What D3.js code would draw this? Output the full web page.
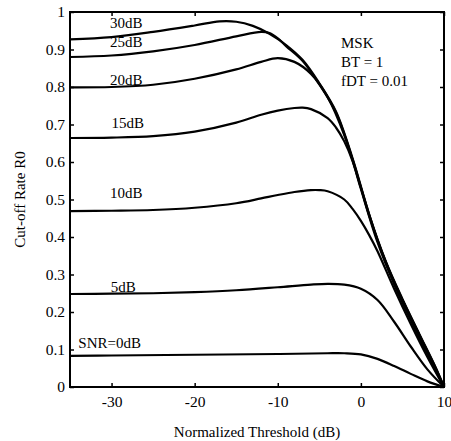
<!DOCTYPE html>
<html><head><meta charset="utf-8">
<script src="https://cdn.jsdelivr.net/npm/d3@7"></script>
<style>body{margin:0;background:#fff}svg{display:block}
.f1{font-family:"Liberation Serif","Times New Roman",serif}</style>
</head><body><svg id="c" width="451" height="441"></svg>
<script>
const xTicks = [-30, -20, -10, 0, 10];
const xTickLabels = ["-30", "-20", "-10", "0", "10"];
const yTicks = [0, 0.1, 0.2, 0.3, 0.4, 0.5, 0.6, 0.7, 0.8, 0.9, 1];
const yTickLabels = ["0", "0.1", "0.2", "0.3", "0.4", "0.5", "0.6", "0.7", "0.8", "0.9", "1"];
const seriesNames = ["30dB", "25dB", "20dB", "15dB", "10dB", "5dB", "SNR=0dB"];
const xs30 = [-35, -30, -25, -20, -17, -15, -13, -11, -9, -7, -5, -3, -1, 1, 3, 5, 7, 9, 10];
const snr30 = [0.927, 0.933, 0.947, 0.964, 0.975, 0.974, 0.963, 0.942, 0.912, 0.872, 0.81, 0.735, 0.61, 0.46, 0.335, 0.235, 0.143, 0.052, 0];
const xs25 = [-35, -30, -25, -20, -15, -12, -11, -10, -9, -7, -5, -3, -1, 1, 3, 5, 7, 9, 10];
const snr25 = [0.88, 0.884, 0.895, 0.912, 0.935, 0.947, 0.944, 0.93, 0.909, 0.869, 0.807, 0.732, 0.607, 0.457, 0.332, 0.232, 0.141, 0.051, 0];
const xs20 = [-35, -30, -25, -20, -15, -12, -10, -8, -6, -4, -2, 0, 2, 4, 6, 8, 10];
const snr20 = [0.799, 0.8, 0.806, 0.822, 0.847, 0.867, 0.877, 0.867, 0.835, 0.773, 0.672, 0.532, 0.392, 0.28, 0.185, 0.093, 0];
const xs15 = [-35, -30, -25, -20, -15, -12, -10, -8, -7, -6, -4, -3, -2, -1, 0, 2, 4, 6, 8, 10];
const snr15 = [0.664, 0.665, 0.669, 0.681, 0.705, 0.726, 0.737, 0.744, 0.745, 0.741, 0.717, 0.692, 0.655, 0.602, 0.528, 0.386, 0.274, 0.178, 0.088, 0];
const xs10 = [-35, -30, -25, -20, -15, -12, -10, -8, -6, -5, -4, -2, -1, 0, 1, 2, 4, 6, 8, 10];
const snr10 = [0.469, 0.47, 0.472, 0.478, 0.49, 0.503, 0.512, 0.52, 0.525, 0.525, 0.522, 0.5, 0.475, 0.443, 0.405, 0.362, 0.262, 0.168, 0.08, 0];
const xs5 = [-35, -30, -25, -20, -15, -10, -6, -4, -2, 0, 2, 4, 6, 8, 10];
const snr5 = [0.248, 0.249, 0.25, 0.253, 0.258, 0.266, 0.273, 0.275, 0.273, 0.262, 0.232, 0.174, 0.108, 0.047, 0];
const xs0 = [-35, -30, -20, -10, -4, -2, 0, 2, 4, 6, 8, 10];
const snr0 = [0.083, 0.084, 0.086, 0.088, 0.09, 0.09, 0.087, 0.075, 0.056, 0.035, 0.015, 0];
const infoLines = ["MSK", "BT = 1", "fDT = 0.01"];

const svg = d3.select("#c");
const L = 70, R = 444, T = 12, B = 387;
const x = d3.scaleLinear().domain([-35, 10]).range([L, R]);
const y = d3.scaleLinear().domain([0, 1]).range([B, T]);

const series = [[xs30, snr30], [xs25, snr25], [xs20, snr20], [xs15, snr15], [xs10, snr10], [xs5, snr5], [xs0, snr0]];
const line = d3.line().x(d => x(d[0])).y(d => y(d[1])).curve(d3.curveCatmullRom.alpha(0.5));
series.forEach(([xs, ys]) => {
  svg.append("path").attr("d", line(xs.map((v, i) => [v, ys[i]])))
    .attr("fill", "none").attr("stroke", "#000").attr("stroke-width", 2.2);
});

const ax = svg.append("g").attr("transform", `translate(0,${B})`)
  .call(d3.axisBottom(x).tickValues(xTicks).tickSize(-4).tickPadding(9).tickFormat((d, i) => xTickLabels[i]));
const axT = svg.append("g").attr("transform", `translate(0,${T})`)
  .call(d3.axisTop(x).tickValues(xTicks).tickSize(-4).tickFormat(""));
const ayL = svg.append("g").attr("transform", `translate(${L},0)`)
  .call(d3.axisLeft(y).tickValues(yTicks).tickSize(-4).tickPadding(5).tickFormat((d, i) => yTickLabels[i]));
const ayR = svg.append("g").attr("transform", `translate(${R},0)`)
  .call(d3.axisRight(y).tickValues(yTicks).tickSize(-4).tickFormat(""));
[ax, axT, ayL, ayR].forEach(g => {
  g.attr("font-family", null).attr("class", "f1").attr("font-size", 15.5);
  g.select(".domain").remove();
  g.selectAll(".tick line").attr("stroke", "#000").attr("stroke-width", 1.5);
  g.selectAll("text").attr("fill", "#000");
});
svg.append("rect").attr("x", L).attr("y", T).attr("width", R - L).attr("height", B - T)
  .attr("fill", "none").attr("stroke", "#000").attr("stroke-width", 2);

const labelPos = [[-30.2, 0.957], [-30.2, 0.907], [-30.2, 0.805], [-30.0, 0.69], [-30.2, 0.504], [-30.1, 0.253], [-34.0, 0.104]];
seriesNames.forEach((n, i) => {
  svg.append("text").attr("class", "f1").attr("x", x(labelPos[i][0])).attr("y", y(labelPos[i][1]))
    .attr("font-size", 15).text(n);
});
infoLines.forEach((t, i) => {
  svg.append("text").attr("class", "f1").attr("x", 341).attr("y", 48 + i * 19).attr("font-size", 15).text(t);
});

svg.append("text").attr("class", "f1").attr("x", (L + R) / 2).attr("y", 437).attr("text-anchor", "middle")
  .attr("font-size", 15).text("Normalized Threshold (dB)");
svg.append("text").attr("class", "f1").attr("transform", `translate(25,${(T + B) / 2}) rotate(-90)`).attr("text-anchor", "middle")
  .attr("font-size", 15).text("Cut-off Rate R0");
</script></body></html>
